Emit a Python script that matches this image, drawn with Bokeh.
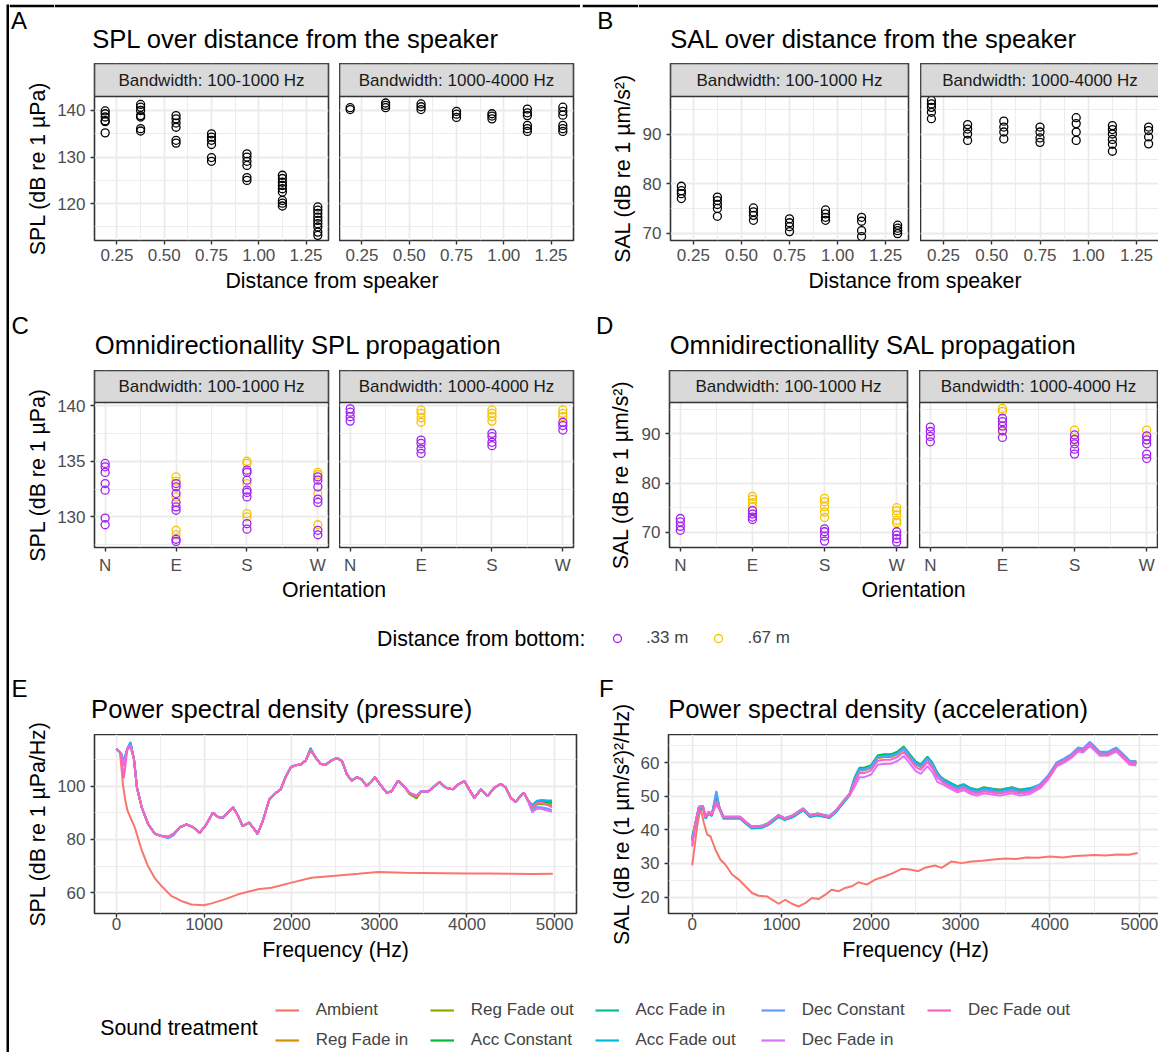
import math
from bokeh.plotting import figure
from bokeh.models import (Range1d, FixedTicker, Label, Legend, LegendItem, BoxAnnotation,
                          ColumnDataSource, NumeralTickFormatter, Grid, Spacer)
from bokeh.layouts import row, column
from bokeh.embed import file_html
from bokeh.resources import INLINE

# ---------------------------------------------------------------- data
BANDS = ["Bandwidth: 100-1000 Hz", "Bandwidth: 1000-4000 Hz"]
DIST = [0.1875, 0.375, 0.5625, 0.75, 0.9375, 1.125, 1.3125]

SPL_DIST_LOW = [[139.9, 139.3, 138.6, 137.8, 137.6, 135.2],
                [141.3, 140.7, 140.0, 138.9, 138.6, 136.1, 135.6],
                [138.9, 138.2, 137.3, 136.4, 133.6, 133.0],
                [135.0, 134.3, 133.6, 132.7, 129.9, 129.1],
                [130.7, 130.0, 129.1, 128.2, 125.6, 125.0],
                [126.1, 125.4, 124.6, 123.9, 123.2, 122.5, 120.7, 120.1, 119.5],
                [119.3, 118.6, 117.9, 117.1, 116.4, 115.7, 115.0, 113.9, 113.2]]
SPL_DIST_HIGH = [[140.6, 140.2],
                 [141.6, 141.1, 140.6],
                 [141.4, 140.8, 140.2],
                 [139.8, 139.2, 138.5],
                 [139.3, 138.8, 138.2],
                 [140.3, 139.5, 138.9, 136.8, 136.1, 135.5],
                 [140.7, 139.8, 139.0, 136.8, 136.1, 135.5]]
SAL_DIST_LOW = [[79.5, 78.6, 78.0, 77.0],
                [77.3, 76.6, 75.8, 75.0, 73.4],
                [75.1, 74.3, 73.6, 72.6],
                [72.9, 72.1, 71.3, 70.3],
                [74.7, 73.9, 73.2, 72.6],
                [73.2, 72.4, 70.5, 69.3],
                [71.6, 71.0, 70.5, 69.9]]
SAL_DIST_HIGH = [[96.9, 96.2, 95.5, 94.5, 93.2],
                 [92.0, 91.1, 90.1, 88.8],
                 [92.7, 91.5, 90.5, 89.1],
                 [91.5, 90.5, 89.3, 88.4],
                 [93.4, 92.2, 90.5, 88.8],
                 [91.8, 91.0, 90.1, 89.0, 88.0, 86.6],
                 [91.5, 90.8, 89.5, 88.1]]

ORIENT = ["N", "E", "S", "W"]
HEIGHTS = [".33 m", ".67 m"]
SPL_OR_LOW_33 = [[134.8, 134.5, 134.0, 133.0, 132.4, 129.9, 129.3],
                 [133.0, 132.7, 132.1, 131.3, 130.9, 130.6, 128.0, 127.8],
                 [134.2, 134.0, 133.3, 132.4, 132.2, 131.8, 129.4, 128.9],
                 [133.6, 133.3, 132.7, 131.6, 131.3, 128.8, 128.4]]
SPL_OR_LOW_67 = [[], [133.6, 133.2, 131.8, 128.8, 128.4],
                 [135.0, 134.8, 133.0, 130.3, 130.0],
                 [134.0, 133.8, 132.1, 129.3]]
SPL_OR_HIGH_33 = [[139.7, 139.4, 139.0, 138.6], [136.9, 136.6, 136.1, 135.7],
                  [137.5, 137.2, 136.7, 136.4], [138.5, 138.2, 137.8]]
SPL_OR_HIGH_67 = [[], [139.6, 139.3, 138.9, 138.5],
                  [139.6, 139.3, 139.0, 138.6], [139.6, 139.3, 139.0]]
SAL_OR_LOW_33 = [[72.8, 72.1, 71.2, 70.4], [74.4, 73.7, 73.1, 72.6],
                 [70.7, 70.1, 69.2, 68.2], [70.1, 69.4, 68.7, 68.0]]
SAL_OR_LOW_67 = [[], [77.3, 76.7, 76.0, 75.2], [76.9, 76.2, 75.2, 74.1, 73.0],
                 [75.0, 74.4, 73.5, 72.4, 71.9]]
SAL_OR_HIGH_33 = [[91.4, 90.5, 89.5, 88.4], [93.2, 92.5, 91.6, 90.7, 89.3],
                  [89.8, 88.9, 88.0, 86.9, 85.9], [89.6, 88.8, 88.0, 85.9, 85.0]]
SAL_OR_HIGH_67 = [[], [95.2, 94.6, 90.5], [90.8, 88.8], [90.8, 89.5]]

TREATMENTS = ["Ambient", "Reg Fade in", "Reg Fade out", "Acc Constant", "Acc Fade in",
              "Acc Fade out", "Dec Constant", "Dec Fade in", "Dec Fade out"]
TREAT_COLORS = ["#F8766D", "#D39200", "#93AA00", "#00BA38", "#00C19F",
                "#00B9E3", "#619CFF", "#DB72FB", "#FF61C3"]

# --- PSD pressure (panel E)
E_AMB_FREQ = [0, 40, 60, 75, 100, 125, 150, 210, 285, 360,
              435, 515, 625, 740, 855, 1000, 1085, 1235, 1390, 1615,
              1770, 2000, 2225, 2530, 2760, 2985, 3290, 3500, 3750, 4000,
              4250, 4500, 4750, 4980]
E_AMBIENT = [114.0, 112.8, 106.0, 100.5, 95.0, 91.0, 89.0, 84.5, 76.3, 70.0,
             65.6, 62.5, 58.8, 56.9, 55.6, 55.3, 56.0, 57.5, 59.4, 61.3,
             61.9, 63.8, 65.6, 66.5, 67.1, 67.8, 67.5, 67.4, 67.3, 67.2,
             67.2, 67.1, 67.0, 67.1]
E_FREQ = [0, 50, 85, 125, 160, 200, 235, 290, 365, 440,
          515, 590, 650, 725, 800, 875, 950, 1025, 1100, 1160,
          1215, 1270, 1330, 1385, 1440, 1515, 1575, 1610, 1670, 1745,
          1820, 1875, 1930, 1990, 2045, 2100, 2160, 2215, 2270, 2330,
          2385, 2440, 2515, 2575, 2630, 2685, 2745, 2800, 2855, 2915,
          2950, 3010, 3085, 3140, 3215, 3290, 3345, 3425, 3480, 3555,
          3630, 3685, 3760, 3840, 3895, 3970, 4025, 4085, 4160, 4235,
          4310, 4385, 4440, 4500, 4555, 4610, 4650, 4690, 4745, 4800,
          4855, 4915, 4970]
E_REG_FADE_IN = [114.0, 112.5, 108.5, 114.0, 115.6, 110.2, 99.4, 91.9, 85.6, 82.1,
                 81.3, 80.9, 82.1, 84.6, 85.6, 84.6, 82.5, 85.6, 90.0, 88.4,
                 88.1, 90.0, 92.1, 89.1, 85.0, 86.3, 83.8, 82.1, 86.9, 95.0,
                 97.5, 98.8, 103.4, 107.1, 107.9, 108.1, 109.6, 113.4, 110.9, 108.4,
                 107.9, 109.4, 110.6, 109.4, 104.4, 102.1, 103.4, 102.5, 100.0, 101.9,
                 103.4, 100.6, 97.5, 98.1, 102.1, 99.6, 97.5, 95.6, 98.1, 97.9,
                 100.0, 101.6, 99.4, 98.8, 100.6, 101.9, 98.8, 95.6, 98.8, 96.3,
                 99.4, 100.9, 99.6, 95.6, 94.1, 96.3, 97.5, 95.0, 91.6, 93.3,
                 93.4, 93.0, 92.6]
E_REG_FADE_OUT = [114.0, 112.5, 109.0, 114.0, 115.8, 110.2, 99.4, 91.9, 85.6, 82.1,
                  81.3, 80.9, 82.1, 84.6, 85.6, 84.6, 82.5, 85.6, 90.0, 88.4,
                  88.1, 90.0, 92.1, 89.1, 85.0, 86.3, 83.8, 82.1, 86.9, 95.0,
                  97.5, 98.8, 103.4, 107.1, 107.9, 108.1, 109.6, 113.5, 110.9, 108.4,
                  107.9, 109.4, 110.6, 109.4, 104.4, 102.1, 103.4, 102.5, 100.0, 101.9,
                  103.4, 100.6, 97.5, 98.1, 102.1, 99.6, 96.9, 95.4, 98.1, 97.9,
                  100.0, 101.6, 99.4, 98.8, 100.6, 101.9, 98.8, 95.6, 98.8, 96.3,
                  99.4, 100.9, 99.6, 95.6, 94.1, 96.3, 97.5, 95.0, 91.8, 93.2,
                  93.3, 93.2, 93.0]
E_ACC_CONSTANT = [114.0, 112.5, 108.8, 114.0, 116.0, 110.2, 99.4, 91.9, 85.6, 82.1,
                  81.3, 80.9, 82.1, 84.6, 85.6, 84.6, 82.5, 85.6, 90.0, 88.4,
                  88.1, 90.0, 92.1, 89.1, 85.0, 86.3, 83.8, 82.1, 86.9, 95.0,
                  97.5, 98.8, 103.4, 107.1, 107.9, 108.1, 109.6, 114.3, 110.9, 108.4,
                  107.9, 109.4, 110.6, 109.4, 104.4, 102.1, 103.4, 102.5, 100.0, 101.9,
                  103.4, 100.6, 97.5, 98.1, 102.1, 99.6, 97.5, 96.0, 98.1, 97.9,
                  100.0, 101.6, 99.4, 98.8, 100.6, 101.9, 98.8, 95.6, 98.8, 96.3,
                  99.4, 100.9, 99.6, 95.6, 94.1, 96.3, 97.5, 95.0, 92.4, 94.0,
                  94.2, 93.9, 93.8]
E_ACC_FADE_IN = [114.0, 112.5, 109.2, 114.0, 116.2, 110.2, 99.4, 91.9, 85.6, 82.1,
                 81.3, 80.9, 82.1, 84.6, 85.6, 84.6, 82.5, 85.6, 90.0, 88.4,
                 88.1, 90.0, 92.1, 89.1, 85.0, 86.3, 83.8, 82.1, 86.9, 95.0,
                 97.5, 98.8, 103.4, 107.1, 107.9, 108.1, 109.6, 114.1, 110.9, 108.4,
                 107.9, 109.4, 110.6, 109.4, 104.4, 102.1, 103.4, 102.5, 100.0, 101.9,
                 103.4, 100.6, 97.5, 98.1, 102.1, 99.6, 97.5, 96.3, 98.1, 97.9,
                 100.0, 101.6, 99.4, 98.8, 100.6, 101.9, 98.8, 95.6, 98.8, 96.3,
                 99.4, 100.9, 99.6, 95.6, 94.1, 96.3, 97.5, 95.0, 92.6, 94.2,
                 94.5, 94.4, 94.3]
E_ACC_FADE_OUT = [114.0, 112.5, 109.5, 114.0, 116.6, 110.2, 99.4, 91.9, 85.6, 82.1,
                  81.3, 80.9, 81.6, 84.6, 85.6, 84.6, 82.5, 85.6, 90.0, 88.4,
                  88.1, 90.0, 92.1, 89.1, 85.0, 86.3, 83.8, 82.1, 86.9, 95.0,
                  97.5, 98.8, 103.4, 107.1, 107.9, 108.1, 109.6, 114.0, 110.9, 108.4,
                  107.9, 109.4, 110.6, 109.4, 104.4, 102.1, 103.4, 102.5, 100.0, 101.9,
                  103.4, 100.6, 97.5, 98.1, 102.1, 99.6, 97.5, 96.3, 98.1, 97.9,
                  100.0, 101.6, 99.4, 98.8, 100.6, 101.9, 98.8, 95.6, 98.8, 96.3,
                  99.4, 100.9, 99.6, 95.6, 94.1, 96.3, 97.5, 95.0, 92.9, 94.5,
                  94.8, 94.6, 94.6]
E_DEC_CONSTANT = [114.0, 112.5, 109.3, 114.0, 116.4, 110.2, 99.4, 91.9, 85.6, 82.1,
                  81.3, 80.4, 81.5, 84.6, 85.6, 84.6, 82.5, 85.6, 90.0, 88.4,
                  88.1, 90.0, 92.1, 89.1, 85.0, 86.3, 83.8, 82.1, 86.9, 95.0,
                  97.5, 98.8, 103.4, 107.1, 107.9, 108.1, 109.6, 113.8, 110.9, 108.4,
                  107.9, 109.4, 110.6, 109.4, 104.4, 102.1, 103.4, 102.5, 100.0, 101.9,
                  103.4, 100.6, 97.5, 98.1, 102.1, 99.6, 97.5, 96.3, 98.1, 97.9,
                  100.0, 101.6, 99.4, 98.8, 100.6, 101.9, 98.8, 95.6, 98.8, 96.3,
                  99.4, 100.9, 99.6, 95.6, 94.1, 96.3, 97.5, 95.0, 90.8, 92.2,
                  92.0, 91.6, 91.0]
E_DEC_FADE_IN = [114.0, 112.5, 107.5, 114.0, 115.2, 110.2, 99.4, 91.9, 85.6, 82.1,
                 81.3, 80.9, 82.1, 84.6, 85.6, 84.6, 82.5, 85.6, 90.0, 88.4,
                 88.1, 90.0, 92.1, 89.1, 85.0, 86.3, 83.8, 82.1, 86.9, 95.0,
                 97.5, 98.8, 103.4, 107.1, 107.9, 108.1, 109.6, 113.8, 110.9, 108.4,
                 107.9, 109.4, 110.6, 109.4, 104.4, 102.1, 103.4, 102.5, 100.0, 101.9,
                 103.4, 100.6, 97.5, 98.1, 102.1, 99.6, 97.5, 96.3, 98.1, 97.9,
                 100.0, 101.6, 99.4, 98.8, 100.6, 101.9, 98.8, 95.6, 98.8, 96.3,
                 99.4, 100.9, 99.6, 95.6, 94.1, 96.3, 97.5, 95.0, 90.2, 91.6,
                 91.4, 90.9, 90.4]
E_DEC_FADE_OUT = [114.0, 112.5, 103.0, 114.0, 114.8, 110.2, 99.4, 91.9, 85.6, 82.1,
                  81.3, 80.9, 82.1, 84.6, 85.6, 84.6, 82.5, 85.6, 90.0, 88.4,
                  88.1, 90.0, 92.1, 89.1, 85.0, 86.3, 83.8, 82.1, 86.9, 95.0,
                  97.5, 98.8, 103.4, 107.1, 107.9, 108.1, 109.6, 113.8, 110.9, 108.4,
                  107.9, 109.4, 110.6, 109.4, 104.4, 102.1, 103.4, 102.5, 100.0, 101.9,
                  103.4, 100.6, 97.5, 98.1, 102.1, 99.6, 97.5, 96.3, 98.1, 97.9,
                  100.0, 101.6, 99.4, 98.8, 100.6, 101.9, 98.8, 95.6, 98.8, 96.3,
                  99.4, 100.9, 99.6, 95.6, 94.1, 96.3, 97.5, 95.0, 92.1, 93.8,
                  93.8, 93.1, 92.0]

# --- PSD acceleration (panel F)
F_AMB_FREQ = [0, 56, 93, 130, 167, 204, 260, 316, 372, 446, 520, 595, 669, 743, 836,
              892, 967, 1041, 1115, 1190, 1264, 1338, 1413, 1487, 1561, 1636, 1710,
              1784, 1859, 1952, 2045, 2156, 2249, 2342, 2435, 2528, 2602, 2714, 2788,
              2900, 3011, 3123, 3243, 3370, 3500, 3620, 3736, 3870, 4000, 4146, 4280,
              4400, 4500, 4620, 4762, 4880, 4980]
F_AMBIENT = [29.4, 41.1, 46.6, 42.1, 38.6, 38.1, 34.1, 31.1, 29.6, 26.7, 25.2, 23.2,
             21.2, 20.4, 20.2, 19.2, 18.0, 19.2, 18.0, 17.2, 18.2, 19.7, 19.4, 20.7,
             22.2, 21.7, 22.7, 23.2, 24.4, 23.7, 25.2, 26.2, 27.2, 28.4, 28.2, 27.7,
             28.7, 29.4, 28.7, 30.6, 30.1, 30.6, 30.8, 31.2, 31.5, 31.3, 31.8, 31.7,
             32.1, 31.8, 32.2, 32.4, 32.5, 32.4, 32.7, 32.6, 33.1]
F_FREQ = [0, 35, 75, 120, 150, 185, 220, 270, 305, 350, 445, 535, 595, 665, 780,
          850, 965, 1035, 1130, 1240, 1315, 1405, 1480, 1535, 1610, 1685, 1760,
          1815, 1870, 1925, 2000, 2075, 2150, 2220, 2295, 2365, 2425, 2500, 2555,
          2630, 2685, 2740, 2815, 2890, 2965, 3035, 3110, 3185, 3260, 3350, 3445,
          3575, 3665, 3780, 3890, 3980, 4075, 4150, 4240, 4315, 4370, 4445, 4500,
          4555, 4650, 4740, 4815, 4890, 4965]
F_REG_FADE_IN = ([37.0, 41.8, 46.7, 46.9, 43.7, 45.2, 44.5, 49.8, 46.5, 43.7, 43.7, 43.7, 42.3,
                  40.8, 41.0, 41.8, 44.2, 43.3, 44.2, 46.2, 44.2, 44.7, 44.2, 43.9, 45.7, 48.2, 50.6]
                 + [54.9, 57.8, 57.8, 58.6, 61.5, 61.8, 61.8, 62.6, 64.1, 62.1, 59.6, 58.8, 61.1, 59.3, 56.4]
                 + [54.7, 53.6, 52.6, 53.2, 52.1, 51.6, 52.3, 51.9, 51.6, 52.3, 51.6, 52.1]
                 + [53.0, 55.6, 59.5, 60.5, 62.0, 63.9, 63.6, 65.6, 64.2, 62.7, 62.7, 63.9, 62.0, 60.0, 59.8])
F_REG_FADE_OUT = ([37.5, 41.6, 46.5, 46.7, 43.5, 45.0, 44.3, 49.6, 46.3, 43.5, 43.5, 43.5, 42.1,
                   40.6, 40.8, 41.6, 44.0, 43.1, 44.0, 46.0, 44.0, 44.5, 44.0, 43.7, 45.5, 48.0, 50.4]
                  + [54.8, 57.7, 57.7, 58.5, 61.4, 61.7, 61.7, 62.5, 64.0, 62.0, 59.5, 58.7, 61.0, 59.2, 56.3]
                  + [55.1, 54.0, 53.0, 53.6, 52.5, 52.0, 52.7, 52.3, 52.0, 52.7, 52.0, 52.5]
                  + [52.8, 55.4, 59.3, 60.3, 61.8, 63.7, 63.4, 65.4, 64.0, 62.5, 62.5, 63.7, 61.8, 59.8, 59.6])
F_ACC_CONSTANT = ([38.0, 42.0, 46.9, 47.1, 43.9, 45.4, 44.7, 50.4, 46.7, 43.9, 43.9, 43.9, 42.5,
                   41.0, 41.2, 42.0, 44.4, 43.5, 44.4, 46.4, 44.4, 44.9, 44.4, 44.1, 45.9, 48.4, 50.8]
                  + [55.6, 58.5, 58.5, 59.3, 62.2, 62.5, 62.5, 63.3, 64.8, 62.8, 60.3, 59.5, 61.8, 60.0, 57.1]
                  + [54.5, 53.4, 52.4, 53.0, 51.9, 51.4, 52.1, 51.7, 51.4, 52.1, 51.4, 51.9]
                  + [53.2, 55.8, 59.7, 60.7, 62.2, 64.1, 63.8, 65.8, 64.4, 62.9, 62.9, 64.1, 62.2, 60.2, 60.0])
F_ACC_FADE_IN = ([36.5, 41.6, 46.5, 46.7, 43.5, 45.0, 44.3, 50.8, 46.3, 43.5, 43.5, 43.5, 42.1,
                  40.6, 40.8, 41.6, 44.0, 43.1, 44.0, 46.0, 44.0, 44.5, 44.0, 43.7, 45.5, 48.0, 50.4]
                 + [55.3, 58.2, 58.2, 59.0, 61.9, 62.2, 62.2, 63.0, 64.5, 62.5, 60.0, 59.2, 61.5, 59.7, 56.8]
                 + [54.3, 53.2, 52.2, 52.8, 51.7, 51.2, 51.9, 51.5, 51.2, 51.9, 51.2, 51.7]
                 + [53.3, 55.9, 59.8, 60.8, 62.3, 64.2, 63.9, 65.9, 64.5, 63.0, 63.0, 64.2, 62.3, 60.3, 60.1])
F_ACC_FADE_OUT = ([37.2, 41.4, 46.3, 46.5, 43.3, 44.8, 44.1, 51.2, 46.1, 43.3, 43.3, 43.3, 41.9,
                   40.4, 40.6, 41.4, 43.8, 42.9, 43.8, 45.8, 43.8, 44.3, 43.8, 43.5, 45.3, 47.8, 50.2]
                  + [55.2, 58.1, 58.1, 58.9, 61.8, 62.1, 62.1, 62.9, 64.4, 62.4, 59.9, 59.1, 61.4, 59.6, 56.7]
                  + [55.0, 53.9, 52.9, 53.5, 52.4, 51.9, 52.6, 52.2, 51.9, 52.6, 51.9, 52.4]
                  + [53.5, 56.1, 60.0, 61.0, 62.5, 64.4, 64.1, 66.1, 64.7, 63.2, 63.2, 64.4, 62.5, 60.5, 60.3])
F_DEC_CONSTANT = ([36.8, 42.0, 46.9, 47.1, 43.9, 45.4, 44.7, 51.6, 46.7, 43.9, 43.9, 43.9, 42.5,
                   41.0, 41.2, 42.0, 44.4, 43.5, 44.4, 46.4, 44.4, 44.9, 44.4, 44.1, 45.9, 48.4, 50.8]
                  + [55.0, 57.9, 57.9, 58.7, 61.6, 61.9, 61.9, 62.7, 64.2, 62.2, 59.7, 58.9, 61.2, 59.4, 56.5]
                  + [54.4, 53.3, 52.3, 52.9, 51.8, 51.3, 52.0, 51.6, 51.3, 52.0, 51.3, 51.8]
                  + [53.6, 56.2, 60.1, 61.1, 62.6, 64.5, 64.2, 66.2, 64.8, 63.3, 63.3, 64.5, 62.6, 60.6, 60.4])
F_DEC_FADE_IN = ([35.5, 41.9, 46.8, 47.0, 43.8, 45.3, 44.6, 47.5, 46.0, 43.8, 43.8, 43.8, 42.4,
                  40.9, 41.1, 41.9, 44.3, 43.4, 44.3, 46.3, 44.3, 44.8, 44.3, 44.0, 45.8, 48.3, 50.2]
                 + [52.8, 55.7, 55.7, 56.5, 59.4, 59.7, 59.7, 60.5, 62.0, 60.0, 57.5, 56.7, 59.0, 57.2, 54.3]
                 + [53.3, 52.2, 51.2, 51.8, 50.7, 50.2, 50.9, 50.5, 50.2, 50.9, 50.2, 50.7]
                 + [52.4, 55.0, 58.9, 59.9, 61.4, 63.3, 63.0, 65.0, 63.6, 62.1, 62.1, 63.3, 61.4, 59.4, 59.2])
F_DEC_FADE_OUT = ([35.0, 41.8, 46.7, 46.9, 43.7, 45.2, 44.5, 48.5, 46.3, 43.7, 43.7, 43.7, 42.3,
                   40.8, 41.0, 41.8, 44.2, 43.3, 44.2, 46.2, 44.2, 44.7, 44.2, 43.9, 45.7, 48.2, 50.6]
                  + [54.0, 56.9, 56.9, 57.7, 60.6, 60.9, 60.9, 61.7, 63.2, 61.2, 58.7, 57.9, 60.2, 58.4, 55.5]
                  + [53.9, 52.8, 51.8, 52.4, 51.3, 50.8, 51.5, 51.1, 50.8, 51.5, 50.8, 51.3]
                  + [53.0, 55.6, 59.5, 60.5, 62.0, 63.9, 63.6, 65.6, 64.2, 62.7, 62.7, 63.9, 62.0, 60.0, 59.8])

# ---------------------------------------------------------------- style
FONT = "Liberation Sans"
TICK_C = "#4D4D4D"
GRID_C = "#EBEBEB"
EDGE_C = "#333333"
STRIP_C = "#D9D9D9"
PURPLE = "#A020F0"
GOLD = "#F5C400"
TITLE_SZ = "25.6px"
TAG_SZ = "24px"
AXT_SZ = "21.3px"
TXT_SZ = "17px"
NAN = float("nan")
PAGE_W, PAGE_H = 1158, 1052
BAR_OFF, BAR_W = 4, 3      # page frame: top line rows 4-7, left line columns 6-9
LBAR_OFF = 6
TOP_H = BAR_OFF + BAR_W     # 7
LEFT_W = LBAR_OFF + BAR_W   # 9


def bar_fig(fw, fh, mbl, mbt):
    p = figure(frame_width=fw, frame_height=fh, x_range=Range1d(0, 1), y_range=Range1d(0, 1),
               x_axis_location=None, y_axis_location=None, toolbar_location=None,
               output_backend="svg", title=None, min_border_left=mbl, min_border_top=mbt,
               min_border_right=0, min_border_bottom=0)
    p.grid.visible = False
    p.outline_line_color = None
    p.background_fill_color = "black"
    p.border_fill_color = "white"
    return p


def text_fig(w, h, texts, top_black=0):
    p = figure(frame_width=w, frame_height=h, x_range=Range1d(0, w), y_range=Range1d(h, 0),
               x_axis_location=None, y_axis_location=None, toolbar_location=None,
               output_backend="svg", title=None, min_border=0, min_border_top=top_black)
    p.grid.visible = False
    p.outline_line_color = None
    p.background_fill_color = "white"
    if top_black:
        p.border_fill_color = "black"
    for (x, y, txt, size, align) in texts:
        p.add_layout(Label(x=x, y=y, text=txt, text_font=FONT, text_font_size=size,
                           text_color="black", text_align=align, text_baseline="middle"))
    return p


def side_fig(w, h, tag, tag_x, tag_y, ylabel, ylab_x, ylab_y, top_black=0):
    p = text_fig(w, h, [(tag_x, tag_y, tag, TAG_SZ, "left")], top_black=top_black)
    p.add_layout(Label(x=ylab_x, y=ylab_y, text=ylabel, angle=math.pi / 2,
                       text_align="center", text_baseline="middle", text_font=FONT,
                       text_font_size=AXT_SZ, text_color="black"))
    return p


def facet_fig(fw, ph, sh, strip_text, mbl, mbr, mbb, xr, yr, xt, xm, yt, ym, show_y,
              xlabel=None, x_fmt=None, x_over=None, xstand=4):
    y0, y1 = yr
    ytop = y1 + (y1 - y0) * sh / ph if sh else y1
    p = figure(frame_width=fw, frame_height=ph + sh, x_range=Range1d(*xr),
               y_range=Range1d(y0, ytop), y_axis_location="left" if show_y else None,
               toolbar_location=None, output_backend="svg", title=None,
               min_border_left=mbl, min_border_right=mbr, min_border_top=0,
               min_border_bottom=mbb)
    p.outline_line_color = EDGE_C
    p.outline_line_width = 1.6
    xtk = FixedTicker(ticks=xt, minor_ticks=xm)
    ytk = FixedTicker(ticks=yt, minor_ticks=ym)
    p.xaxis.ticker = xtk
    p.xgrid.ticker = xtk
    if len(p.ygrid) == 0:
        p.add_layout(Grid(dimension=1, ticker=ytk))
    p.ygrid.ticker = ytk
    if show_y:
        p.yaxis.ticker = ytk
    p.grid.grid_line_color = GRID_C
    p.grid.grid_line_width = 1.8
    p.grid.minor_grid_line_color = GRID_C
    p.grid.minor_grid_line_width = 0.9
    for ax in p.axis:
        ax.axis_line_color = None
        ax.major_tick_line_color = EDGE_C
        ax.major_tick_line_width = 1.4
        ax.major_tick_in = 0
        ax.major_tick_out = 4
        ax.minor_tick_line_color = None
        ax.major_label_text_font = FONT
        ax.major_label_text_font_size = TXT_SZ
        ax.major_label_text_color = TICK_C
        ax.axis_label_text_font = FONT
        ax.axis_label_text_font_size = AXT_SZ
        ax.axis_label_text_font_style = "normal"
        ax.axis_label_text_color = "black"
    p.xaxis.major_label_standoff = xstand
    if x_fmt is not None:
        p.xaxis.formatter = x_fmt
    if x_over is not None:
        p.xaxis.major_label_overrides = x_over
    if xlabel:
        p.xaxis.axis_label = xlabel
        p.xaxis.axis_label_standoff = 5
    if show_y:
        p.yaxis.major_label_standoff = 5
    if sh:
        p.add_layout(BoxAnnotation(left=xr[0], right=xr[1], bottom=y1, top=ytop,
                                   fill_color=STRIP_C, fill_alpha=1.0, line_color=EDGE_C,
                                   line_alpha=1.0, line_width=1.6))
        p.add_layout(Label(x=(xr[0] + xr[1]) / 2, y=(y1 + ytop) / 2, text=strip_text,
                           text_font=FONT, text_font_size=TXT_SZ, text_color="#1A1A1A",
                           text_align="center", text_baseline="middle"))
    return p


def flat(xs, groups):
    X, Y = [], []
    for x, vals in zip(xs, groups):
        X.extend([x] * len(vals))
        Y.extend(vals)
    return X, Y


def add_points(p, xs, groups, color):
    X, Y = flat(xs, groups)
    p.scatter(x=X, y=Y, marker="circle", size=8, fill_color=None, line_color=color,
              line_width=1.3)


# ---------------------------------------------------------------- rows A/B
DIST_XT = [0.25, 0.5, 0.75, 1.0, 1.25]
DIST_XM = [0.375, 0.625, 0.875, 1.125]
DIST_XR = (0.131, 1.369)


def dist_block(sw, mbl, fw1, gap, fw2, mbr, yr, yt, ym, ylabel, ylab_x, low, high, tag,
               tag_x, title, title_x):
    w = mbl + fw1 + gap + fw2 + mbr
    side = side_fig(sw, 300 - TOP_H, tag, tag_x, 13.4, ylabel, ylab_x, 168 - TOP_H,
                    top_black=BAR_W)
    header = text_fig(w, 63 - TOP_H, [(title_x, 38 - TOP_H, title, TITLE_SZ, "left")],
                      top_black=BAR_W)
    f1 = facet_fig(fw1, 144, 33, BANDS[0], mbl, gap, 28, DIST_XR, yr, DIST_XT, DIST_XM,
                   yt, ym, True, x_fmt=NumeralTickFormatter(format="0.00"))
    f2 = facet_fig(fw2, 144, 33, BANDS[1], 0, mbr, 28, DIST_XR, yr, DIST_XT, DIST_XM,
                   yt, ym, False, x_fmt=NumeralTickFormatter(format="0.00"))
    add_points(f1, DIST, low, "black")
    add_points(f2, DIST, high, "black")
    cx = (mbl + mbl + fw1 + gap + fw2) / 2
    xt = text_fig(w, 32, [(cx, 12, "Distance from speaker", AXT_SZ, "center")])
    return row(side, column(header, row(f1, f2), xt))


blockA = dist_block(54 - LEFT_W, 38, 234, 11, 234, 9, (112.1, 143.0), [120, 130, 140],
                    [115, 125, 135], "SPL (dB re 1 µPa)", 37 - LEFT_W, SPL_DIST_LOW,
                    SPL_DIST_HIGH, "A", 10.4 - LEFT_W, "SPL over distance from the speaker",
                    37.7)
blockB = dist_block(56, 32, 238, 12, 239, 1, (68.5, 97.7), [70, 80, 90],
                    [75, 85, 95], "SAL (dB re 1 µm/s²)", 40.5, SAL_DIST_LOW, SAL_DIST_HIGH,
                    "B", 14.7, "SAL over distance from the speaker", 31.7)

# ---------------------------------------------------------------- rows C/D
OR_POS = list(range(1, len(ORIENT) + 1))
OR_OVER = {pos: lab for pos, lab in zip(OR_POS, ORIENT)}
OR_XR = (0.85, 4.15)
OR_XM = [1.5, 2.5, 3.5]


def orient_block(sw, mbl, fw1, gap, fw2, mbr, yr, yt, ym, ylabel, ylab_x, low33, low67,
                 high33, high67, tag, tag_x, tag_y, title, title_x):
    w = mbl + fw1 + gap + fw2 + mbr
    side = side_fig(sw, 310, tag, tag_x, tag_y, ylabel, ylab_x, 174.5)
    header = text_fig(w, 70, [(title_x, 44.2, title, TITLE_SZ, "left")])
    f1 = facet_fig(fw1, 145, 32, BANDS[0], mbl, gap, 28, OR_XR, yr, OR_POS, OR_XM, yt, ym,
                   True, x_over=OR_OVER)
    f2 = facet_fig(fw2, 145, 32, BANDS[1], 0, mbr, 28, OR_XR, yr, OR_POS, OR_XM, yt, ym,
                   False, x_over=OR_OVER)
    add_points(f1, OR_POS, low67, GOLD)
    add_points(f1, OR_POS, low33, PURPLE)
    add_points(f2, OR_POS, high67, GOLD)
    add_points(f2, OR_POS, high33, PURPLE)
    cx = (mbl + mbl + fw1 + gap + fw2) / 2
    xt = text_fig(w, 35, [(cx, 12, "Orientation", AXT_SZ, "center")])
    return row(side, column(header, row(f1, f2), xt))


blockC = orient_block(54 - LEFT_W, 40, 234, 11, 234, 7, (127.26, 140.27), [130, 135, 140],
                      [127.5, 132.5, 137.5], "SPL (dB re 1 µPa)", 37 - LEFT_W, SPL_OR_LOW_33,
                      SPL_OR_LOW_67, SPL_OR_HIGH_33, SPL_OR_HIGH_67, "C", 11 - LEFT_W, 25,
                      "Omnidirectionallity SPL propagation", 40.3)
blockD = orient_block(56, 33, 238, 12, 238, 1, (66.9, 96.4), [70, 80, 90],
                      [75, 85, 95], "SAL (dB re 1 µm/s²)", 40.5, SAL_OR_LOW_33,
                      SAL_OR_LOW_67, SAL_OR_HIGH_33, SAL_OR_HIGH_67, "D", 15.5, 24.5,
                      "Omnidirectionallity SAL propagation", 33.2)

# ---------------------------------------------------------------- legend 1
BODY_W = PAGE_W - LEFT_W
leg1 = text_fig(BODY_W, 50, [(376.6 - LEFT_W, 26, "Distance from bottom:", AXT_SZ, "left")])
r33 = leg1.scatter(x="x", y="y", source=ColumnDataSource(data=dict(x=[NAN], y=[NAN])),
                   marker="circle", size=8, fill_color=None, line_color=PURPLE,
                   line_width=1.3)
r67 = leg1.scatter(x="x", y="y", source=ColumnDataSource(data=dict(x=[NAN], y=[NAN])),
                   marker="circle", size=8, fill_color=None, line_color=GOLD,
                   line_width=1.3)
L1 = Legend(items=[LegendItem(label=HEIGHTS[0], renderers=[r33]),
                   LegendItem(label=HEIGHTS[1], renderers=[r67])],
            orientation="horizontal", location=(606.9 - LEFT_W, 14), padding=0, margin=0,
            spacing=20, label_standoff=19, glyph_width=20, glyph_height=20,
            label_text_font=FONT, label_text_font_size=TXT_SZ, border_line_color=None,
            background_fill_alpha=0)
leg1.add_layout(L1, "center")

# ---------------------------------------------------------------- rows E/F
E_SERIES = [E_REG_FADE_IN, E_REG_FADE_OUT, E_ACC_CONSTANT, E_ACC_FADE_IN, E_ACC_FADE_OUT,
            E_DEC_CONSTANT, E_DEC_FADE_IN, E_DEC_FADE_OUT]
F_SERIES = [F_REG_FADE_IN, F_REG_FADE_OUT, F_ACC_CONSTANT, F_ACC_FADE_IN, F_ACC_FADE_OUT,
            F_DEC_CONSTANT, F_DEC_FADE_IN, F_DEC_FADE_OUT]
FREQ_XT = [0, 1000, 2000, 3000, 4000, 5000]
FREQ_XM = [500, 1500, 2500, 3500, 4500]


def psd_block(sw, mbl, fw, mbr, xr, yr, yt, ym, ylabel, ylab_x, amb_f, amb, freq, series,
              tag, tag_x, title, title_x):
    w = mbl + fw + mbr
    side = side_fig(sw, 305, tag, tag_x, 26.2, ylabel, ylab_x, 161.5)
    header = text_fig(w, 72, [(title_x, 46.7, title, TITLE_SZ, "left")])
    f = facet_fig(fw, 179, 0, None, mbl, mbr, 54, xr, yr, FREQ_XT, FREQ_XM, yt, ym, True,
                  xlabel="Frequency (Hz)", xstand=0)
    f.line(amb_f, amb, line_color=TREAT_COLORS[0], line_width=2.0)
    for vals, col in zip(series, TREAT_COLORS[1:]):
        f.line(freq, vals, line_color=col, line_width=2.0)
    return row(side, column(header, row(f)))


blockE = psd_block(54 - LEFT_W, 37, 482, 7, (-250, 5250), (52.2, 119.4), [60, 80, 100],
                   [70, 90, 110], "SPL (dB re 1 µPa/Hz)", 37 - LEFT_W, E_AMB_FREQ, E_AMBIENT,
                   E_FREQ, E_SERIES, "E", 11 - LEFT_W, "Power spectral density (pressure)",
                   36.6)
blockF = psd_block(54, 29, 494, 1, (-265, 5258), (15.1, 68.4), [20, 30, 40, 50, 60],
                   [25, 35, 45, 55, 65], "SAL (dB re (1 µm/s²)²/Hz)", 38.7, F_AMB_FREQ,
                   F_AMBIENT, F_FREQ, F_SERIES, "F", 15.5,
                   "Power spectral density (acceleration)", 30.8)

# ---------------------------------------------------------------- legend 2
leg2 = text_fig(BODY_W, 87, [(99.7 - LEFT_W, 60, "Sound treatment", AXT_SZ, "left")])
treat_r = []
for col in TREAT_COLORS:
    treat_r.append(leg2.line(x="x", y="y",
                             source=ColumnDataSource(data=dict(x=[NAN], y=[NAN])),
                             line_color=col, line_width=2.2))
COL_X = [274.7, 429.8, 594.5, 760.7, 927.0]
for ci, cx in enumerate(COL_X):
    idx = [i for i in (2 * ci, 2 * ci + 1) if i < len(TREATMENTS)]
    items = [LegendItem(label=TREATMENTS[i], renderers=[treat_r[i]]) for i in idx]
    ly = 3.7 if len(idx) == 2 else 33.7
    lg = Legend(items=items, orientation="vertical", location=(cx - LEFT_W, ly), padding=0,
                margin=0, spacing=10, label_standoff=17, glyph_width=24, glyph_height=20,
                label_text_font=FONT, label_text_font_size=TXT_SZ, border_line_color=None,
                background_fill_alpha=0)
    leg2.add_layout(lg, "center")

# ---------------------------------------------------------------- page frame + assembly
left_bar = bar_fig(BAR_W, PAGE_H - BAR_OFF, LBAR_OFF, 0)
body = column(row(blockA, blockB), row(blockC, blockD), leg1, row(blockE, blockF), leg2)
root = column(Spacer(width=PAGE_W, height=BAR_OFF), row(left_bar, body))

open("out.html", "w").write(file_html(root, INLINE, title="Sound propagation"))
